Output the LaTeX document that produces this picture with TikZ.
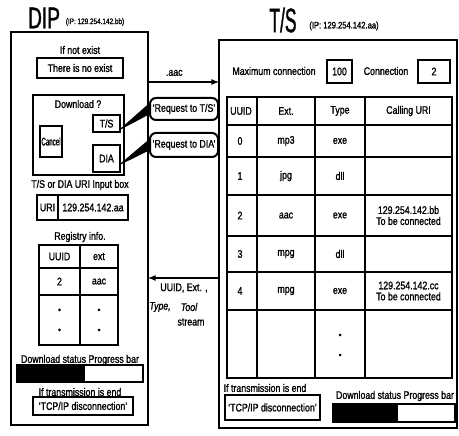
\documentclass[tikz,border=0pt]{standalone}
\usepackage{fontspec}
\setmainfont{Liberation Sans}[FakeStretch=0.8,FakeBold=1.2]
\usepackage{graphicx}
\begin{document}
\begin{tikzpicture}[x=1pt,y=-1pt,>=latex,font=\fontsize{11}{11}\selectfont,
  frame/.style={draw, line width=1.6pt},
  box/.style={draw, line width=2pt, inner sep=0pt},
  bubble/.style={draw, line width=2pt, rounded corners=6pt, inner sep=1pt},
  grid/.style={line width=1.8pt}]
\useasboundingbox (0,0) rectangle (459,436);

% DIP side
\node (diptitle) at (44,18) {\scalebox{0.8}[1]{\fontsize{30}{30}\selectfont DIP}};
\node[font=\fontsize{8}{8}\selectfont] (dipip) at (95,22) {(IP: 129.254.142.bb)};
\node[frame, minimum width=137, minimum height=393] (dip) at (79.5,228.5) {};

\node (notexist) at (80,50) {If not exist};
\node[box, minimum width=86, minimum height=20] (noexist) at (80,68) {There is no exist};

\node[box, minimum width=91, minimum height=80] (dl) at (78.5,135) {};
\node (dlq) at (78,104) {Download ?};
\node[box, minimum width=27, minimum height=17] (ts) at (106.5,123.5) {T/S};
\node[box, minimum width=22, minimum height=31] (cancel) at (51,141.5) {\scalebox{0.7}[1]{Cancel}};
\node[box, minimum width=27, minimum height=27] (dia) at (106.5,158.5) {DIA};

\node (uritxt) at (80,185) {T/S or DIA URI Input box};
\node[box, minimum width=21, minimum height=25] (uri) at (47.5,207.5) {URI};
\node[box, minimum width=70, minimum height=25] (addr) at (93,207.5) {129.254.142.aa};

\node (regtxt) at (80,237) {Registry info.};
\draw[grid] (39,245) rectangle (118,345);
\draw[grid] (80,245) -- (80,345);
\draw[grid] (39,268) -- (118,268) (39,295) -- (118,295);
\node (reguuid) at (59.5,256.5) {UUID};
\node (regext) at (99,256.5) {ext};
\node (reg2) at (59.5,281.5) {2};
\node (regaac) at (99,281.5) {aac};
\foreach \x in {59.5,99}
  \foreach \y in {310,330}
    \fill (\x,\y) circle (1.5);

\node (dlstat) at (80,360) {Download status Progress bar};
\node[box, minimum width=126, minimum height=17] (dipbar) at (80,373.5) {};
\fill (17,365) rectangle (85,382);

\node (dipend) at (80,392) {If transmission is end};
\node[box, minimum width=100, minimum height=18] (diptcp) at (83,406) {`TCP/IP disconnection'};

% T/S side
\node (tstitle) at (283,20) {\scalebox{0.64}[1]{\fontsize{34}{34}\selectfont T/S}};
\node[font=\fontsize{9.5}{10}\selectfont] (tsip) at (344,26) {(IP: 129.254.142.aa)};
\node[frame, minimum width=238, minimum height=388] (tsbox) at (338,234) {};

\node (maxtxt) at (274,71) {Maximum connection};
\node[box, minimum width=25, minimum height=23] (maxc) at (339.5,71.5) {100};
\node (contxt) at (386,71) {Connection};
\node[box, minimum width=32, minimum height=23] (conc) at (434,71.5) {2};

\draw[grid] (227,97) rectangle (452,378);
\foreach \x in {257,315,365}
  \draw[grid] (\x,97) -- (\x,378);
\foreach \y in {125,157,195,236,272,310}
  \draw[grid] (227,\y) -- (452,\y);

\node (huuid) at (241,111) {UUID};
\node (hext) at (286,111) {Ext.};
\node (htype) at (340,111) {Type};
\node (huri) at (408.5,111) {Calling URI};
\foreach \r/\y/\e/\t in {0/141/mp3/exe, 1/176/jpg/dll, 2/215.5/aac/exe, 3/254/mpg/dll, 4/291/mpg/exe} {
  \node (uuid\r) at (240,\y) {\r};
  \node (ext\r) at (286,\y) {\e};
  \node (type\r) at (340,\y) {\t};
}
\node[align=center] (calluri2) at (408.5,215.5) {129.254.142.bb\\To be connected};
\node[align=center] (calluri4) at (408.5,291) {129.254.142.cc\\To be connected};
\fill (340,335) circle (1.5) (340,355) circle (1.5);

\node (tsend) at (265,388) {If transmission is end};
\node[box, minimum width=95, minimum height=25] (tstcp) at (272.5,407.5) {`TCP/IP disconnection'};
\node (tsdl) at (395,396) {Download status Progress bar};
\node[box, minimum width=122, minimum height=18] (tsbar) at (394,413) {};
\fill (333,404) rectangle (398,422);

% requests
\node[bubble, minimum width=68, minimum height=22] (reqts) at (184,109) {`Request to T/S'};
\node[bubble, minimum width=68, minimum height=24] (reqdia) at (184,145) {`Request to DIA'};
\filldraw[line width=1pt, line join=round] (ts.-20) -- (reqts.172) -- (reqts.188) -- cycle;
\filldraw[line width=1pt, line join=round] (dia.-20) -- (reqdia.172) -- (reqdia.188) -- cycle;

% transfers
\coordinate (aacL) at (148,82);
\coordinate (aacR) at (219,82);
\coordinate (retR) at (219,278);
\coordinate (retL) at (148,278);
\path[draw,line width=1.6pt,->] (aacL) -- node[above=2pt, pos=0.37] {.aac} (aacR);
\path[draw,line width=1.6pt,->] (retR) -- (retL);
\node (retuuid) at (184,288) {UUID, Ext. ,};
\node[font=\fontsize{11}{11}\selectfont\itshape] (rettype) at (160,307) {Type,};
\node[font=\fontsize{11}{11}\selectfont\itshape] (rettool) at (189,307) {Tool};
\node (retstream) at (191,322) {stream};
\end{tikzpicture}
\end{document}
